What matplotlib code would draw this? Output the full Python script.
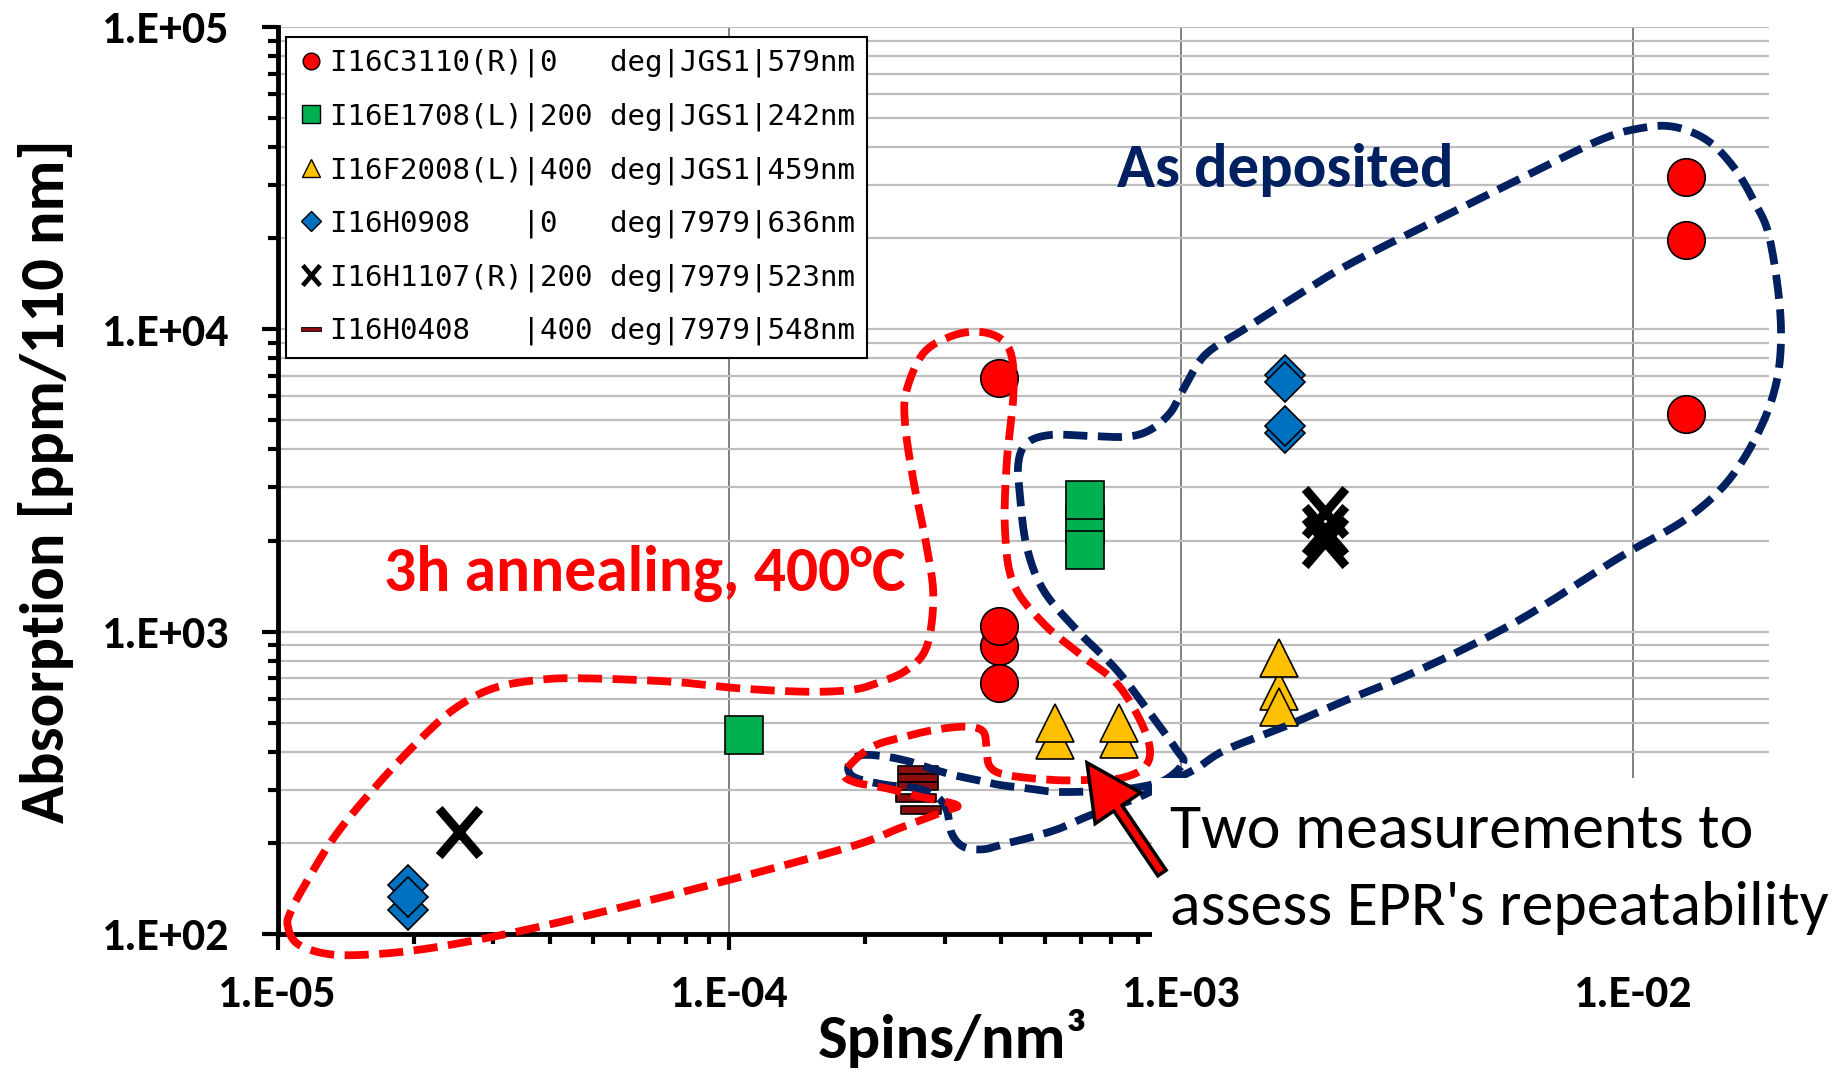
import numpy as np
import matplotlib
matplotlib.use("Agg")
import matplotlib.pyplot as plt
from matplotlib.path import Path
from matplotlib.lines import Line2D
from matplotlib.patches import Rectangle, FancyArrow
from matplotlib.transforms import IdentityTransform
from matplotlib.ticker import LogLocator, NullFormatter
from matplotlib import font_manager

# ------------------------------------------------------------------ data
c3110_x = [1.306e-2, 1.306e-2, 1.306e-2, 3.95e-4, 3.95e-4, 3.95e-4, 3.95e-4]
c3110_y = [31800, 19700, 5230, 6880, 895, 1042, 677]

e1708_x = [1.076e-4, 6.12e-4, 6.12e-4, 6.12e-4]
e1708_y = [455, 2250, 2716, 1864]

f2008_x = [5.25e-4, 5.25e-4, 7.28e-4, 7.28e-4, 1.644e-3, 1.644e-3, 1.644e-3]
f2008_y = [438, 498, 442, 498, 636, 564, 815]

h0908_x = [1.948e-5, 1.948e-5, 1.948e-5, 1.696e-3, 1.696e-3, 1.696e-3, 1.696e-3]
h0908_y = [145, 120, 133, 7035, 6670, 4533, 4783]

h1107_x = [2.52e-5, 2.08e-3, 2.08e-3, 2.08e-3]
h1107_y = [218, 2490, 2170, 1980]

h0408_x = [2.61e-4, 2.61e-4, 2.61e-4, 2.59e-4, 2.65e-4]
h0408_y = [348, 328, 308, 282, 257]

series_labels = [
    "I16C3110(R)|0   deg|JGS1|579nm",
    "I16E1708(L)|200 deg|JGS1|242nm",
    "I16F2008(L)|400 deg|JGS1|459nm",
    "I16H0908   |0   deg|7979|636nm",
    "I16H1107(R)|200 deg|7979|523nm",
    "I16H0408   |400 deg|7979|548nm",
]

xtick_vals = [1e-5, 1e-4, 1e-3, 1e-2]
xtick_labels = ["1.E-05", "1.E-04", "1.E-03", "1.E-02"]
ytick_vals = [1e2, 1e3, 1e4, 1e5]
ytick_labels = ["1.E+02", "1.E+03", "1.E+04", "1.E+05"]

x_label = "Spins/nm³"
y_label = "Absorption [ppm/110 nm]"
note_deposited = "As deposited"
note_annealed = "3h annealing, 400°C"
note_repeat = ["Two measurements to", "assess EPR's repeatability"]

# --------------------------------------------- annotation outlines (pixels)
red_loop_px = [
    (287.9, 926.7), (296.8, 943.3), (323.6, 953.3), (359.3, 955), (417.3, 950),
    (493.2, 936.7), (582.5, 916.7), (716.4, 883.3), (850.4, 846.7), (900, 828),
    (943.3, 811.7), (956.7, 805), (920, 796.7), (886.7, 788.3), (853.3, 781.7),
    (845, 771.7), (870, 748), (903.3, 737), (936.7, 729.5), (966.7, 726.7),
    (983.3, 731.7), (986.7, 750), (990, 766.7), (1006.7, 775), (1053.3, 780),
    (1086.7, 780), (1120, 778.3), (1143.3, 768.3), (1150, 750), (1140, 720),
    (1116.7, 683.3), (1083.3, 656.7), (1043.3, 623.3), (1013.3, 583.3),
    (1005, 530), (1006.7, 463.3), (1013.3, 396.7), (1011.7, 356.7),
    (1000, 338.3), (976.7, 331.7), (950, 336.7), (923.3, 353.3), (906.7, 390),
    (905, 423.3), (913.3, 480), (926.7, 546.7), (933.3, 596.7), (926.7, 646.7),
    (906.7, 670), (876.7, 683.3), (850.4, 690), (805.7, 691.7), (738.8, 688.3),
    (671.8, 681.7), (582.5, 678.3), (537.9, 680), (493.2, 688.3), (457.5, 706.7),
    (426.3, 733.3), (381.6, 780), (337, 833.3), (305.7, 883.3), (290, 913.3),
]
blue_loop_px = [
    (1183, 763), (1176.7, 750), (1150, 713.3), (1116.7, 670), (1076.7, 630),
    (1043.3, 590), (1026.7, 546.7), (1020, 496.7), (1018.3, 463.3),
    (1026.7, 443.3), (1050, 435), (1090, 436), (1126.7, 436.7), (1150, 430),
    (1170, 413), (1183, 390), (1205, 355), (1243, 330), (1290, 300),
    (1349.5, 264), (1455, 211), (1525.6, 176), (1600, 140), (1640, 128.3),
    (1673.3, 126.7), (1706.7, 140), (1733.3, 166.7), (1753.3, 200), (1770, 240),
    (1781, 328.6), (1772, 399), (1736.8, 469.4), (1689.8, 516.3),
    (1619.4, 557.4), (1516.3, 621.7), (1419.3, 670), (1346.6, 700),
    (1288.4, 725), (1225.4, 750), (1196.7, 768.3), (1170, 781.7), (1140, 796.7),
    (1113.3, 806.7), (1086.7, 816.7), (1060, 828.3), (1033.3, 836.7),
    (1006.7, 843.3), (983.3, 849.3), (963.3, 846.7), (951.7, 833.3),
    (946.7, 810), (936.7, 796.7), (916.7, 788.3), (886.7, 785), (856.7, 778.3),
    (848.3, 770), (851.7, 760), (863.3, 755), (886.7, 756.7), (910, 761.7),
    (930, 768.3), (953.3, 775), (976.7, 780), (1000, 785), (1026.7, 788.3),
    (1053.3, 791.7), (1083.3, 791.7), (1113.3, 790), (1140, 787), (1165, 780),
]

# ------------------------------------------------------------------ layout
W, H, DPI = 1840, 1074, 100
AX_L, AX_R, AX_T, AX_B = 277.5, 1768.7, 26.7, 934.0

avail = {f.name for f in font_manager.fontManager.ttflist}
SANS = "Carlito" if "Carlito" in avail else "Lato"
k = 1.1 if SANS == "Carlito" else 1.0
plt.rcParams["font.family"] = [SANS, "DejaVu Sans"]

fig = plt.figure(figsize=(W / DPI, H / DPI), dpi=DPI)
ax = fig.add_axes([AX_L / W, 1 - AX_B / H, (AX_R - AX_L) / W, (AX_B - AX_T) / H])
ax.set_xscale("log")
ax.set_yscale("log")
ax.set_xlim(1e-5, 10 ** (-5 + (AX_R - AX_L) / 451.9))
ax.set_ylim(1e2, 1e5)

ax.set_axisbelow(True)
ax.yaxis.set_minor_locator(LogLocator(base=10, subs=np.arange(2, 10)))
ax.xaxis.set_minor_locator(LogLocator(base=10, subs=np.arange(2, 10)))
ax.xaxis.set_minor_formatter(NullFormatter())
ax.yaxis.set_minor_formatter(NullFormatter())
ax.grid(which="both", axis="y", color="#BEBEBE", lw=1.6)
ax.grid(which="major", axis="x", color="#808080", lw=1.4)

ax.set_xticks(xtick_vals, labels=xtick_labels)
ax.set_yticks(ytick_vals, labels=ytick_labels)
for lab in ax.get_xticklabels() + ax.get_yticklabels():
    lab.set_fontweight("bold")
    lab.set_fontsize(30 * k)
ax.tick_params(which="major", direction="out", length=11.5, width=3.0, color="black")
ax.tick_params(which="minor", direction="out", length=7.2, width=3.0, color="black")
ax.tick_params(axis="y", which="major", pad=23)
ax.tick_params(axis="x", which="major", pad=17)

for side in ("top", "right"):
    ax.spines[side].set_visible(False)
for side in ("left", "bottom"):
    ax.spines[side].set_linewidth(3.5)
    ax.spines[side].set_color("black")

# custom markers
x_marker = Path([(-0.43, -0.5), (0.43, 0.5), (-0.43, 0.5), (0.43, -0.5)],
                [Path.MOVETO, Path.LINETO, Path.MOVETO, Path.LINETO])
dash_marker = Path([(-0.5, -0.1), (0.5, -0.1), (0.5, 0.1), (-0.5, 0.1), (-0.5, -0.1)],
                   [Path.MOVETO, Path.LINETO, Path.LINETO, Path.LINETO, Path.CLOSEPOLY])

RED, GREEN, YELLOW, BLUE, DKRED = "#FF0000", "#00B050", "#FFC000", "#0070C0", "#8B0D0D"
ew = 1.2
ax.plot(c3110_x, c3110_y, ls="none", marker="o", ms=27, mfc=RED, mec="black", mew=ew, zorder=3)
ax.plot(e1708_x, e1708_y, ls="none", marker="s", ms=28, mfc=GREEN, mec="black", mew=ew, zorder=3)
ax.plot(f2008_x, f2008_y, ls="none", marker="^", ms=28, mfc=YELLOW, mec="black", mew=ew, zorder=3)
ax.plot(h0908_x, h0908_y, ls="none", marker="D", ms=20, mfc=BLUE, mec="black", mew=ew, zorder=3)
ax.plot(h1107_x, h1107_y, ls="none", marker=x_marker, ms=34, mfc="none", mec="black", mew=6.5, zorder=3)
ax.plot(h0408_x, h0408_y, ls="none", marker=dash_marker, ms=29.5, mfc=DKRED, mec="black", mew=ew, zorder=3)


# outlines
def closed_spline(pts, n=16):
    P = np.asarray(pts, float)
    N = len(P)
    out = []
    t = np.linspace(0, 1, n, endpoint=False)[:, None]
    for i in range(N):
        p0, p1, p2, p3 = P[(i - 1) % N], P[i], P[(i + 1) % N], P[(i + 2) % N]
        seg = 0.5 * (2 * p1 + (-p0 + p2) * t + (2 * p0 - 5 * p1 + 4 * p2 - p3) * t ** 2
                     + (-p0 + 3 * p1 - 3 * p2 + p3) * t ** 3)
        out.append(seg)
    out.append(P[:1])
    return np.vstack(out)


def px_to_axes(arr):
    fx = (arr[:, 0] - AX_L) / (AX_R - AX_L)
    fy = (AX_B - arr[:, 1]) / (AX_B - AX_T)
    return fx, fy


for pts, col in ((blue_loop_px, "#002060"), (red_loop_px, RED)):
    fx, fy = px_to_axes(closed_spline(pts))
    ax.plot(fx, fy, transform=ax.transAxes, color=col, lw=5.6,
            ls=(0, (3.1, 1.35)), dash_capstyle="butt", zorder=4, clip_on=False)

# legend
handles = [
    Line2D([], [], ls="none", marker="o", ms=12, mfc=RED, mec="black", mew=1.0),
    Line2D([], [], ls="none", marker="s", ms=13.5, mfc=GREEN, mec="black", mew=1.0),
    Line2D([], [], ls="none", marker="^", ms=13.5, mfc=YELLOW, mec="black", mew=1.0),
    Line2D([], [], ls="none", marker="D", ms=9.8, mfc=BLUE, mec="black", mew=1.0),
    Line2D([], [], ls="none", marker=x_marker, ms=14.5, mfc="none", mec="black", mew=3.4),
    Line2D([], [], ls="none", marker=dash_marker, ms=14, mfc=DKRED, mec="black", mew=0.6),
]
leg = ax.legend(handles, series_labels, loc="upper left",
                bbox_to_anchor=(285.6 / W, 1 - 36.7 / H), bbox_transform=fig.transFigure,
                borderaxespad=0, prop={"family": "DejaVu Sans Mono", "size": 21},
                frameon=True, fancybox=False, framealpha=1, edgecolor="black",
                borderpad=0.42, handlelength=0.9, handletextpad=0.2, labelspacing=0.86)
leg.get_frame().set_linewidth(1.5)
leg.set_zorder(10)

# white text box area and annotations on top
fig.add_artist(Rectangle((1152 / W, 1 - 952 / H), (W - 1152) / W, (952 - 778) / H,
                         transform=fig.transFigure, facecolor="white", edgecolor="none",
                         zorder=5))
fig.text(1170 / W, 1 - 848 / H, note_repeat[0], fontsize=41.8 * k, color="black",
         ha="left", va="baseline", zorder=6)
fig.text(1170 / W, 1 - 925 / H, note_repeat[1], fontsize=41.8 * k, color="black",
         ha="left", va="baseline", zorder=6)
fig.add_artist(FancyArrow(1162, H - 873, -75, 873 - 762.7, width=10, head_width=55,
                          head_length=55, length_includes_head=True, facecolor=RED,
                          edgecolor="black", linewidth=2.5, transform=IdentityTransform(),
                          zorder=7))

fig.text(1285 / W, 1 - 187 / H, note_deposited, fontsize=41 * k, fontweight="bold",
         color="#002060", ha="center", va="baseline", zorder=6)
fig.text(645 / W, 1 - 591 / H, note_annealed, fontsize=41.6 * k, fontweight="bold",
         color=RED, ha="center", va="baseline", zorder=6)

fig.text(46 / W, 1 - 481 / H, y_label, fontsize=41 * k, fontweight="bold", rotation=90,
         ha="center", va="center")
fig.text(953 / W, 1 - 1058 / H, x_label, fontsize=41 * k, fontweight="bold",
         ha="center", va="baseline")

fig.savefig("out.png", dpi=DPI, facecolor="white")
